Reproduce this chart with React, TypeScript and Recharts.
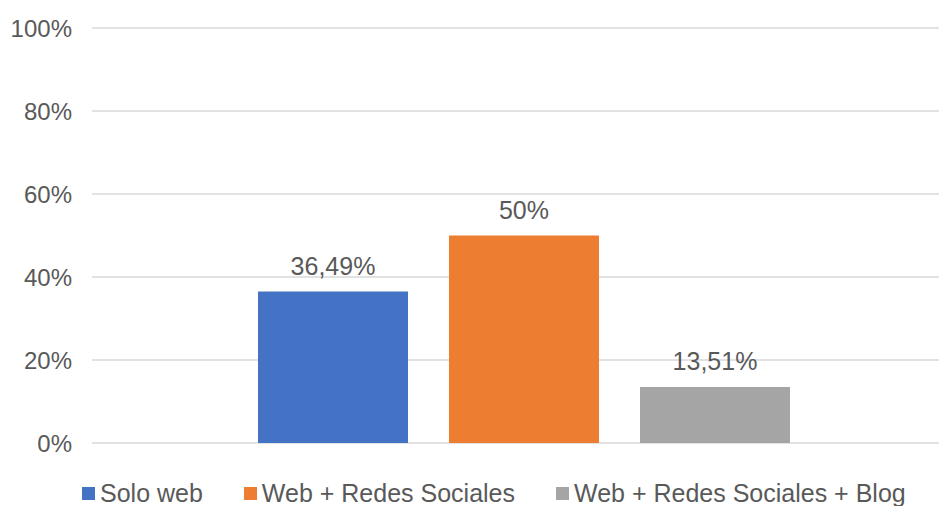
import React from 'react';
import { BarChart, Bar, XAxis, YAxis, CartesianGrid, Legend, LabelList } from 'recharts';

const categories = [''];
const seriesKeys = ['solo', 'redes', 'blog'];
const seriesNames = ['Solo web', 'Web + Redes Sociales', 'Web + Redes Sociales + Blog'];
const seriesColors = ['#4472C4', '#ED7D31', '#A5A5A5'];
const soloValues = [36.49];
const redesValues = [50];
const blogValues = [13.51];
const yTicks = [0, 20, 40, 60, 80, 100];

const data = categories.map((c, i) => ({
  name: c,
  solo: soloValues[i],
  redes: redesValues[i],
  blog: blogValues[i],
}));

const FONT = '"Liberation Sans", Arial, sans-serif';
const TEXT = '#595959';

const fmt = (v: any) => `${String(v).replace('.', ',')}%`;

const LegendContent = () => (
  <div
    style={{
      display: 'flex',
      alignItems: 'center',
      height: 28,
      paddingLeft: 82,
      paddingTop: 2,
      boxSizing: 'border-box',
      fontFamily: FONT,
      fontSize: 25,
      color: TEXT,
      whiteSpace: 'nowrap',
    }}
  >
    {seriesNames.map((n, i) => (
      <div key={n} style={{ display: 'flex', alignItems: 'center', marginRight: 41 }}>
        <span
          style={{ display: 'inline-block', width: 13, height: 13, background: seriesColors[i], marginRight: 5, marginTop: 1 }}
        />
        <span style={{ lineHeight: '26px' }}>{n}</span>
      </div>
    ))}
  </div>
);

export default function App() {
  return (
    <div style={{ position: 'absolute', left: 0, top: 0, width: 939, height: 506, overflow: 'hidden', background: '#fff' }}>
      <BarChart
        width={960}
        height={506}
        data={data}
        margin={{ top: 28, right: 5, left: 0, bottom: 0 }}
        barGap={41}
      >
        <CartesianGrid vertical={false} stroke="#D9D9D9" strokeWidth={1.5} />
        <XAxis dataKey="name" tick={false} axisLine={false} tickLine={false} height={35} />
        <YAxis
          width={92}
          domain={[0, 100]}
          ticks={yTicks}
          tickFormatter={(v: number) => `${v}%`}
          axisLine={false}
          tickLine={false}
          tickMargin={14}
          tick={{ fill: TEXT, fontSize: 24, fontFamily: FONT }}
        />
        <Legend verticalAlign="bottom" content={<LegendContent />} />
        {seriesKeys.map((k, i) => (
          <Bar key={k} dataKey={k} name={seriesNames[i]} fill={seriesColors[i]} barSize={150} isAnimationActive={false}>
            <LabelList
              dataKey={k}
              position="top"
              offset={17}
              formatter={fmt}
              style={{ fill: TEXT, fontSize: 25, fontFamily: FONT }}
            />
          </Bar>
        ))}
      </BarChart>
    </div>
  );
}
